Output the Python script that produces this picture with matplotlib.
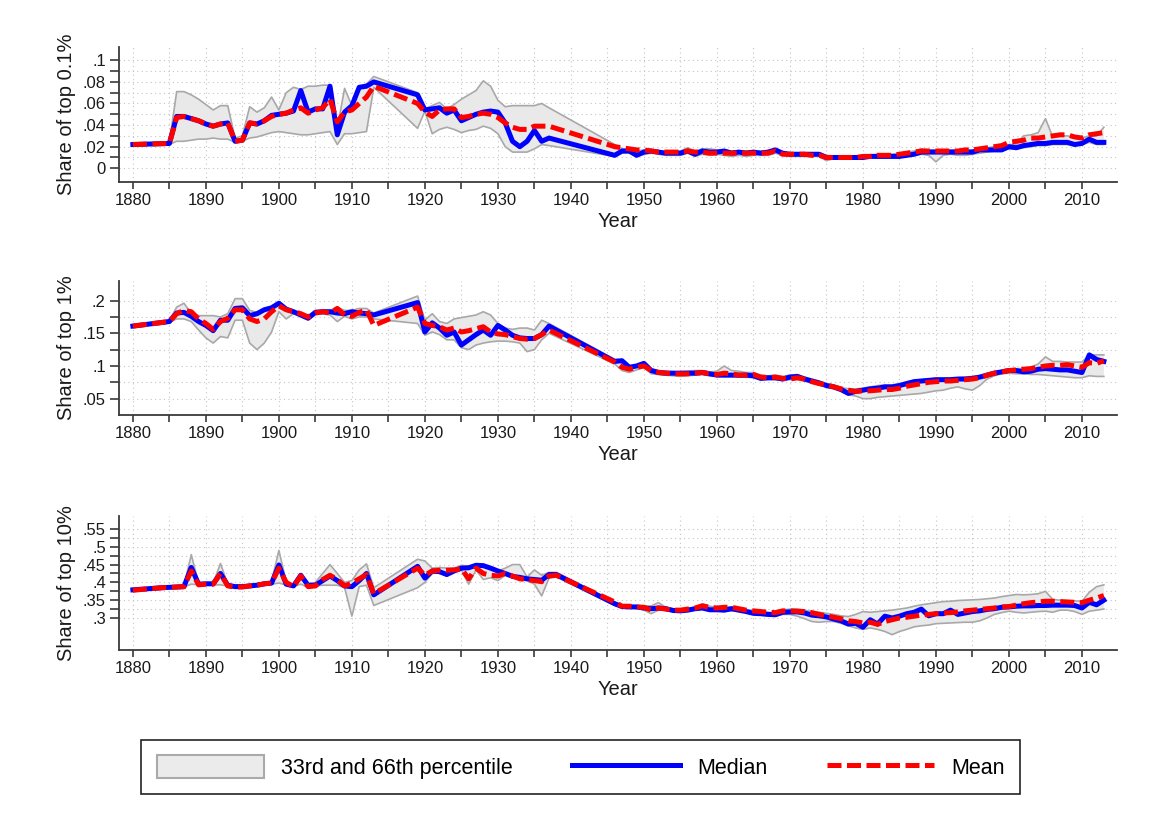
import matplotlib
matplotlib.use("Agg")
import matplotlib.pyplot as plt
from matplotlib.patches import Patch
from matplotlib.lines import Line2D

plt.rcParams['font.family'] = ['Liberation Sans', 'DejaVu Sans']

# ---------------- data ----------------
YEARS_A = [1880, 1885] + list(range(1886, 1914)) + list(range(1919, 1938)) + list(range(1946, 2014))
YEARS_C = [1880, 1884, 1887] + list(range(1888, 1914)) + list(range(1919, 1939)) + list(range(1946, 2014))

# Top 0.1%
P1_MED = [0.022, 0.023,
          0.048, 0.048, 0.046, 0.044, 0.041, 0.039, 0.041, 0.042, 0.025, 0.026, 0.042, 0.041, 0.044, 0.049,
          0.050, 0.051, 0.053, 0.072, 0.052, 0.055, 0.055, 0.076, 0.031, 0.052, 0.058, 0.075, 0.076, 0.080,
          0.068, 0.054, 0.055, 0.056, 0.051, 0.054, 0.044, 0.047, 0.050, 0.052, 0.053, 0.052, 0.042, 0.025,
          0.020, 0.025, 0.035, 0.025, 0.028,
          0.012, 0.016, 0.016, 0.012, 0.015, 0.016, 0.015, 0.014, 0.014, 0.014,
          0.016, 0.013, 0.016, 0.015, 0.015, 0.016, 0.014, 0.015, 0.014, 0.015,
          0.014, 0.015, 0.017, 0.014, 0.013, 0.013, 0.013, 0.013, 0.013, 0.010,
          0.010, 0.010, 0.010, 0.010, 0.010, 0.011, 0.011, 0.011, 0.011, 0.011,
          0.012, 0.013, 0.015, 0.015, 0.015, 0.015, 0.015, 0.015, 0.015, 0.015,
          0.017, 0.017, 0.017, 0.017, 0.020, 0.019, 0.021, 0.022, 0.023, 0.023,
          0.024, 0.024, 0.024, 0.022, 0.023, 0.027, 0.024, 0.024]
P1_MEAN = [0.022, 0.023,
           0.047, 0.048, 0.046, 0.044, 0.041, 0.039, 0.041, 0.042, 0.025, 0.026, 0.042, 0.041, 0.044, 0.048,
           0.050, 0.051, 0.054, 0.056, 0.051, 0.054, 0.056, 0.064, 0.043, 0.052, 0.054, 0.060, 0.066, 0.076,
           0.060, 0.052, 0.048, 0.054, 0.055, 0.055, 0.047, 0.048, 0.050, 0.051, 0.050, 0.047, 0.042, 0.038,
           0.036, 0.036, 0.039, 0.039, 0.039,
           0.020, 0.019, 0.018, 0.017, 0.017, 0.016, 0.015, 0.015, 0.015, 0.015,
           0.016, 0.015, 0.015, 0.014, 0.014, 0.014, 0.014, 0.014, 0.014, 0.014,
           0.014, 0.014, 0.016, 0.013, 0.013, 0.013, 0.013, 0.012, 0.012, 0.010,
           0.010, 0.010, 0.010, 0.010, 0.011, 0.011, 0.012, 0.012, 0.012, 0.013,
           0.014, 0.015, 0.016, 0.016, 0.016, 0.016, 0.016, 0.016, 0.017, 0.017,
           0.018, 0.019, 0.020, 0.021, 0.024, 0.025, 0.026, 0.028, 0.028, 0.029,
           0.030, 0.031, 0.031, 0.029, 0.028, 0.031, 0.032, 0.033]
P1_P66 = [0.023, 0.024,
          0.071, 0.071, 0.068, 0.064, 0.059, 0.054, 0.058, 0.058, 0.028, 0.030, 0.057, 0.052, 0.056, 0.066,
          0.054, 0.070, 0.075, 0.073, 0.076, 0.076, 0.077, 0.077, 0.037, 0.074, 0.058, 0.076, 0.078, 0.085,
          0.070, 0.055, 0.058, 0.061, 0.055, 0.059, 0.064, 0.068, 0.072, 0.081, 0.076, 0.063, 0.057, 0.058,
          0.058, 0.058, 0.058, 0.060, 0.056,
          0.022, 0.018, 0.017, 0.016, 0.017, 0.017, 0.016, 0.015, 0.016, 0.016,
          0.019, 0.016, 0.018, 0.018, 0.017, 0.017, 0.016, 0.016, 0.016, 0.016,
          0.016, 0.016, 0.018, 0.015, 0.014, 0.014, 0.014, 0.014, 0.014, 0.012,
          0.011, 0.011, 0.011, 0.011, 0.012, 0.012, 0.013, 0.013, 0.013, 0.014,
          0.015, 0.016, 0.018, 0.017, 0.017, 0.017, 0.017, 0.017, 0.017, 0.017,
          0.018, 0.019, 0.020, 0.021, 0.022, 0.022, 0.030, 0.031, 0.033, 0.046,
          0.029, 0.030, 0.030, 0.029, 0.028, 0.030, 0.030, 0.038]
P1_P33 = [0.022, 0.022,
          0.025, 0.025, 0.026, 0.027, 0.027, 0.028, 0.027, 0.027, 0.024, 0.025, 0.028, 0.029, 0.031, 0.033,
          0.034, 0.033, 0.032, 0.031, 0.031, 0.032, 0.033, 0.034, 0.022, 0.032, 0.032, 0.033, 0.034, 0.075,
          0.037, 0.053, 0.032, 0.036, 0.038, 0.036, 0.033, 0.035, 0.036, 0.039, 0.037, 0.032, 0.020, 0.015,
          0.015, 0.015, 0.018, 0.022, 0.021,
          0.011, 0.014, 0.014, 0.011, 0.013, 0.014, 0.013, 0.012, 0.012, 0.012,
          0.014, 0.011, 0.013, 0.012, 0.013, 0.012, 0.011, 0.012, 0.011, 0.012,
          0.012, 0.012, 0.014, 0.012, 0.011, 0.011, 0.011, 0.011, 0.011, 0.007,
          0.009, 0.009, 0.009, 0.009, 0.009, 0.010, 0.010, 0.010, 0.010, 0.010,
          0.011, 0.012, 0.013, 0.012, 0.006, 0.012, 0.013, 0.012, 0.012, 0.013,
          0.014, 0.015, 0.016, 0.016, 0.018, 0.018, 0.019, 0.020, 0.021, 0.021,
          0.022, 0.022, 0.022, 0.021, 0.022, 0.024, 0.022, 0.022]

# Top 1%
P2_MED = [0.161, 0.168,
          0.181, 0.182, 0.176, 0.168, 0.162, 0.154, 0.170, 0.170, 0.188, 0.189, 0.177, 0.180, 0.186, 0.189,
          0.196, 0.187, 0.183, 0.178, 0.173, 0.182, 0.183, 0.183, 0.181, 0.180, 0.183, 0.181, 0.180, 0.178,
          0.197, 0.152, 0.166, 0.158, 0.147, 0.152, 0.132, 0.140, 0.148, 0.155, 0.147, 0.162, 0.155, 0.147,
          0.143, 0.142, 0.142, 0.148, 0.161,
          0.107, 0.108, 0.098, 0.100, 0.104, 0.093, 0.090, 0.089, 0.089, 0.089,
          0.089, 0.089, 0.090, 0.088, 0.086, 0.086, 0.086, 0.086, 0.086, 0.085,
          0.081, 0.082, 0.082, 0.080, 0.083, 0.084, 0.080, 0.077, 0.074, 0.070,
          0.068, 0.064, 0.058, 0.061, 0.063, 0.065, 0.066, 0.068, 0.068, 0.070,
          0.073, 0.076, 0.077, 0.078, 0.079, 0.079, 0.079, 0.080, 0.080, 0.081,
          0.083, 0.086, 0.089, 0.091, 0.093, 0.093, 0.091, 0.092, 0.095, 0.096,
          0.095, 0.094, 0.094, 0.092, 0.090, 0.117, 0.110, 0.107]
P2_MEAN = [0.161, 0.168,
           0.180, 0.185, 0.183, 0.172, 0.165, 0.156, 0.168, 0.173, 0.186, 0.186, 0.172, 0.168, 0.172, 0.183,
           0.192, 0.186, 0.183, 0.180, 0.175, 0.181, 0.183, 0.181, 0.188, 0.178, 0.176, 0.182, 0.186, 0.162,
           0.190, 0.165, 0.162, 0.160, 0.155, 0.158, 0.152, 0.154, 0.157, 0.160, 0.152, 0.149, 0.148, 0.145,
           0.142, 0.141, 0.142, 0.148, 0.155,
           0.106, 0.098, 0.095, 0.098, 0.100, 0.093, 0.090, 0.089, 0.088, 0.088,
           0.088, 0.089, 0.090, 0.088, 0.087, 0.089, 0.088, 0.086, 0.086, 0.087,
           0.083, 0.082, 0.083, 0.081, 0.080, 0.082, 0.080, 0.076, 0.073, 0.071,
           0.068, 0.065, 0.063, 0.061, 0.062, 0.062, 0.063, 0.064, 0.064, 0.066,
           0.069, 0.071, 0.073, 0.075, 0.076, 0.077, 0.077, 0.078, 0.079, 0.080,
           0.082, 0.086, 0.089, 0.091, 0.093, 0.094, 0.095, 0.096, 0.098, 0.100,
           0.101, 0.101, 0.102, 0.100, 0.098, 0.105, 0.104, 0.108]
P2_P66 = [0.161, 0.170,
          0.190, 0.196, 0.180, 0.177, 0.177, 0.177, 0.175, 0.180, 0.203, 0.203, 0.185, 0.182, 0.185, 0.190,
          0.197, 0.188, 0.185, 0.181, 0.177, 0.185, 0.185, 0.185, 0.190, 0.185, 0.185, 0.188, 0.188, 0.181,
          0.207, 0.170, 0.180, 0.168, 0.165, 0.172, 0.174, 0.176, 0.178, 0.183, 0.178, 0.165, 0.158, 0.156,
          0.158, 0.158, 0.155, 0.170, 0.165,
          0.110, 0.110, 0.100, 0.102, 0.106, 0.096, 0.093, 0.092, 0.091, 0.091,
          0.092, 0.093, 0.093, 0.091, 0.092, 0.100, 0.093, 0.092, 0.090, 0.090,
          0.086, 0.085, 0.086, 0.084, 0.086, 0.087, 0.083, 0.080, 0.077, 0.073,
          0.071, 0.067, 0.065, 0.065, 0.066, 0.068, 0.070, 0.071, 0.071, 0.073,
          0.076, 0.078, 0.079, 0.080, 0.081, 0.081, 0.082, 0.082, 0.083, 0.084,
          0.085, 0.088, 0.091, 0.093, 0.095, 0.096, 0.096, 0.098, 0.103, 0.114,
          0.107, 0.107, 0.106, 0.106, 0.106, 0.117, 0.117, 0.117]
P2_P33 = [0.161, 0.167,
          0.172, 0.172, 0.168, 0.155, 0.143, 0.135, 0.145, 0.143, 0.170, 0.170, 0.135, 0.125, 0.135, 0.152,
          0.183, 0.172, 0.180, 0.176, 0.171, 0.180, 0.180, 0.178, 0.168, 0.176, 0.172, 0.175, 0.175, 0.172,
          0.165, 0.147, 0.152, 0.148, 0.140, 0.140, 0.128, 0.125, 0.132, 0.135, 0.137, 0.138, 0.138, 0.137,
          0.135, 0.122, 0.125, 0.140, 0.150,
          0.103, 0.093, 0.090, 0.094, 0.098, 0.088, 0.087, 0.086, 0.085, 0.084,
          0.085, 0.086, 0.087, 0.085, 0.084, 0.084, 0.084, 0.083, 0.083, 0.082,
          0.079, 0.079, 0.079, 0.078, 0.079, 0.079, 0.077, 0.074, 0.071, 0.068,
          0.065, 0.061, 0.056, 0.054, 0.050, 0.050, 0.052, 0.053, 0.054, 0.055,
          0.056, 0.057, 0.058, 0.060, 0.062, 0.063, 0.066, 0.068, 0.065, 0.063,
          0.070, 0.080, 0.085, 0.088, 0.089, 0.088, 0.088, 0.087, 0.087, 0.086,
          0.085, 0.084, 0.083, 0.082, 0.082, 0.085, 0.084, 0.084]

# Top 10%
P3_MED = [0.379, 0.385, 0.388,
          0.442, 0.395, 0.396, 0.396, 0.425, 0.392, 0.388, 0.388, 0.390, 0.392, 0.396, 0.398, 0.449,
          0.395, 0.390, 0.420, 0.392, 0.392, 0.405, 0.418, 0.405, 0.390, 0.388, 0.405, 0.425, 0.365,
          0.445, 0.412, 0.432, 0.430, 0.422, 0.432, 0.440, 0.441, 0.448, 0.447, 0.440, 0.432, 0.425, 0.417,
          0.414, 0.410, 0.408, 0.406, 0.422, 0.422,
          0.340, 0.332, 0.331, 0.331, 0.328, 0.326, 0.328, 0.326, 0.321, 0.320,
          0.322, 0.326, 0.328, 0.323, 0.323, 0.322, 0.326, 0.322, 0.318, 0.313,
          0.312, 0.310, 0.309, 0.316, 0.317, 0.317, 0.314, 0.308, 0.306, 0.303,
          0.297, 0.292, 0.283, 0.285, 0.274, 0.295, 0.283, 0.305, 0.300, 0.305,
          0.312, 0.316, 0.325, 0.306, 0.312, 0.312, 0.322, 0.310, 0.314, 0.318,
          0.320, 0.324, 0.326, 0.330, 0.331, 0.333, 0.334, 0.334, 0.335, 0.335,
          0.336, 0.336, 0.336, 0.335, 0.328, 0.344, 0.337, 0.350]
P3_MEAN = [0.378, 0.385, 0.388,
           0.432, 0.393, 0.395, 0.395, 0.425, 0.390, 0.387, 0.387, 0.390, 0.392, 0.396, 0.398, 0.440,
           0.400, 0.388, 0.418, 0.388, 0.390, 0.408, 0.420, 0.408, 0.390, 0.398, 0.410, 0.422, 0.368,
           0.440, 0.420, 0.432, 0.434, 0.434, 0.435, 0.438, 0.410, 0.440, 0.425, 0.420, 0.418, 0.425, 0.418,
           0.410, 0.408, 0.405, 0.402, 0.418, 0.420,
           0.345, 0.333, 0.333, 0.331, 0.330, 0.322, 0.328, 0.325, 0.322, 0.322,
           0.325, 0.328, 0.334, 0.330, 0.328, 0.330, 0.330, 0.326, 0.322, 0.320,
           0.318, 0.316, 0.315, 0.320, 0.320, 0.319, 0.318, 0.315, 0.310, 0.306,
           0.302, 0.298, 0.292, 0.290, 0.286, 0.288, 0.282, 0.290, 0.295, 0.300,
           0.302, 0.305, 0.308, 0.310, 0.312, 0.314, 0.315, 0.317, 0.320, 0.322,
           0.324, 0.326, 0.328, 0.331, 0.332, 0.336, 0.340, 0.343, 0.345, 0.347,
           0.347, 0.346, 0.345, 0.344, 0.343, 0.350, 0.356, 0.363]
P3_P66 = [0.379, 0.386, 0.390,
          0.478, 0.398, 0.398, 0.398, 0.453, 0.395, 0.392, 0.392, 0.394, 0.396, 0.400, 0.402, 0.490,
          0.402, 0.393, 0.424, 0.395, 0.400, 0.425, 0.450, 0.425, 0.400, 0.405, 0.435, 0.452, 0.385,
          0.465, 0.460, 0.440, 0.442, 0.440, 0.440, 0.448, 0.445, 0.452, 0.450, 0.442, 0.432, 0.440, 0.450,
          0.450, 0.415, 0.435, 0.420, 0.428, 0.428,
          0.345, 0.335, 0.335, 0.334, 0.333, 0.334, 0.343, 0.330, 0.326, 0.324,
          0.326, 0.330, 0.340, 0.333, 0.330, 0.330, 0.331, 0.328, 0.324, 0.321,
          0.318, 0.316, 0.315, 0.322, 0.325, 0.325, 0.322, 0.318, 0.316, 0.313,
          0.310, 0.306, 0.304, 0.310, 0.318, 0.316, 0.318, 0.320, 0.322, 0.325,
          0.328, 0.333, 0.337, 0.340, 0.343, 0.346, 0.347, 0.349, 0.350, 0.351,
          0.352, 0.354, 0.356, 0.360, 0.363, 0.366, 0.365, 0.366, 0.368, 0.375,
          0.352, 0.350, 0.348, 0.348, 0.347, 0.372, 0.388, 0.393]
P3_P33 = [0.378, 0.384, 0.387,
          0.395, 0.393, 0.393, 0.393, 0.393, 0.390, 0.386, 0.386, 0.388, 0.390, 0.393, 0.395, 0.398,
          0.393, 0.388, 0.395, 0.386, 0.390, 0.392, 0.392, 0.392, 0.385, 0.305, 0.388, 0.392, 0.335,
          0.385, 0.400, 0.425, 0.428, 0.418, 0.430, 0.435, 0.395, 0.435, 0.408, 0.413, 0.405, 0.420, 0.412,
          0.408, 0.405, 0.395, 0.362, 0.412, 0.415,
          0.335, 0.330, 0.329, 0.328, 0.322, 0.312, 0.322, 0.322, 0.318, 0.318,
          0.320, 0.322, 0.325, 0.320, 0.320, 0.318, 0.320, 0.318, 0.315, 0.310,
          0.308, 0.306, 0.305, 0.310, 0.310, 0.305, 0.298, 0.290, 0.288, 0.290,
          0.290, 0.285, 0.278, 0.272, 0.268, 0.272, 0.268, 0.262, 0.253, 0.262,
          0.268, 0.275, 0.278, 0.280, 0.284, 0.285, 0.286, 0.287, 0.288, 0.288,
          0.292, 0.300, 0.310, 0.315, 0.319, 0.316, 0.314, 0.316, 0.318, 0.319,
          0.316, 0.322, 0.322, 0.318, 0.310, 0.319, 0.322, 0.325]

Y_LABELS = ["Share of top 0.1%", "Share of top 1%", "Share of top 10%"]
P1_YTICKS = [0, 0.01, 0.02, 0.03, 0.04, 0.05, 0.06, 0.07, 0.08, 0.09, 0.10]
P1_YLABS = ["0", "", ".02", "", ".04", "", ".06", "", ".08", "", ".1"]
P2_YTICKS = [0.05, 0.075, 0.10, 0.125, 0.15, 0.175, 0.20]
P2_YLABS = [".05", "", ".1", "", ".15", "", ".2"]
P3_YTICKS = [0.30, 0.325, 0.35, 0.375, 0.40, 0.425, 0.45, 0.475, 0.50, 0.525, 0.55]
P3_YLABS = [".3", "", ".35", "", ".4", "", ".45", "", ".5", "", ".55"]
X_TICKS = list(range(1880, 2011, 5))
X_LABS = [str(y) if y % 10 == 0 else "" for y in X_TICKS]
LEGEND_LABELS = ["33rd and 66th percentile", "Median", "Mean"]

# ---------------- style ----------------
W, H = 1153, 815
fig = plt.figure(figsize=(W / 100, H / 100), dpi=100)
fig.patch.set_facecolor("white")

AX_COL = "#3a3a3a"
GRID_COL = "#c4c4c4"
BAND_FILL = "#e9e9e9"
BAND_EDGE = "#a8a8a8"
BLUE = "#0000ff"
RED = "#ff0000"
DASH = (2.8, 1.1)


def px_rect(top, bottom, left=119, right=1117):
    return [left / W, 1 - bottom / H, (right - left) / W, (bottom - top) / H]


panels = [
    (YEARS_A, P1_MED, P1_MEAN, P1_P33, P1_P66, Y_LABELS[0], P1_YTICKS, P1_YLABS, (-0.0127, 0.1123), px_rect(47, 182)),
    (YEARS_A, P2_MED, P2_MEAN, P2_P33, P2_P66, Y_LABELS[1], P2_YTICKS, P2_YLABS, (0.025, 0.230), px_rect(281, 415)),
    (YEARS_C, P3_MED, P3_MEAN, P3_P33, P3_P66, Y_LABELS[2], P3_YTICKS, P3_YLABS, (0.210, 0.5865), px_rect(516, 650)),
]

for yrs, med, mean, lo, hi, ylab, yt, ytl, ylim, rect in panels:
    ax = fig.add_axes(rect)
    ax.set_xlim(1878.1, 2014.8)
    ax.set_ylim(*ylim)
    for s in ("top", "right"):
        ax.spines[s].set_visible(False)
    for s in ("left", "bottom"):
        ax.spines[s].set_color(AX_COL)
        ax.spines[s].set_linewidth(1.3)
    ax.set_xticks(X_TICKS, labels=X_LABS)
    ax.set_yticks(yt, labels=ytl)
    ax.tick_params(axis="x", direction="out", length=5, width=1.2, color=AX_COL,
                   labelsize=12, pad=3, labelcolor="#1a1a1a")
    ax.tick_params(axis="y", direction="out", length=6.5, width=1.2, color=AX_COL,
                   labelsize=12, pad=3, labelcolor="#1a1a1a")
    ax.grid(True, color=GRID_COL, linestyle=(0, (1, 3)), linewidth=0.8, zorder=0)
    ax.set_axisbelow(True)

    ax.fill_between(yrs, lo, hi, facecolor=BAND_FILL, edgecolor="none", zorder=1)
    ax.plot(yrs, lo, color=BAND_EDGE, lw=1.2, zorder=2)
    ax.plot(yrs, hi, color=BAND_EDGE, lw=1.2, zorder=2)
    ax.plot(yrs, med, color=BLUE, lw=3.6, zorder=3)
    ax.plot(yrs, mean, color=RED, lw=3.6, dashes=DASH, zorder=4)

    ax.set_ylabel(ylab, fontsize=14.5, color="#1a1a1a")
    ax.yaxis.set_label_coords(-0.043, 0.5)
    ax.set_xlabel("Year", fontsize=14.5, color="#1a1a1a", labelpad=3)

handles = [Patch(facecolor="#ebebeb", edgecolor="#aaaaaa", linewidth=1.5),
           Line2D([], [], color=BLUE, lw=3.6),
           Line2D([], [], color=RED, lw=3.6, dashes=DASH)]
leg = fig.legend(handles, LEGEND_LABELS, loc="center",
                 bbox_to_anchor=(580.75 / W, 1 - 767 / H), ncol=3, fontsize=15.5,
                 frameon=True, fancybox=False, edgecolor="#222222", framealpha=1,
                 handlelength=5.0, handleheight=1.25, handletextpad=0.8,
                 columnspacing=2.75, borderpad=0.7)
leg.get_frame().set_linewidth(1.2)

fig.savefig("out.png", dpi=100, facecolor="white")
